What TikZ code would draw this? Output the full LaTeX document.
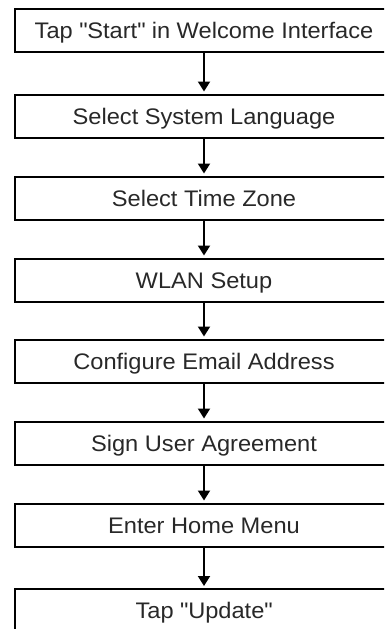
\documentclass[tikz,border=0pt]{standalone}
\usepackage{fontspec}
\setmainfont{Liberation Sans}[FakeStretch=1.05]
\usetikzlibrary{arrows.meta}
\definecolor{txt}{RGB}{40,40,40}
\tikzset{
  stepbox/.style={draw=black, line width=2pt, minimum width=378pt, minimum height=43pt,
    inner sep=0pt, text=txt, font=\fontsize{22.5pt}{26pt}\selectfont, anchor=center,
    text height=16pt, text depth=0pt},
  flow/.style={line width=2pt, -{Triangle[width=12pt,length=10pt]}, shorten >=2pt}
}
\begin{document}
\begin{tikzpicture}[x=1pt,y=-1pt]
\useasboundingbox (0,0) rectangle (384,629);
\clip (0,0) rectangle (384,629);
\node[stepbox] (b1) at (204,30.5) {Tap \textquotedbl Start\textquotedbl\ in Welcome Interface};
\node[stepbox] (b2) at (204,116) {Select System Language};
\node[stepbox] (b3) at (204,198) {Select Time Zone};
\node[stepbox] (b4) at (204,280) {WLAN Setup};
\node[stepbox] (b5) at (204,361) {Configure Email Address};
\node[stepbox] (b6) at (204,443) {Sign User Agreement};
\node[stepbox] (b7) at (204,525) {Enter Home Menu};
\node[stepbox] (b8) at (204,610.5) {Tap \textquotedbl Update\textquotedbl};
\draw[flow] (b1) -- (b2);
\draw[flow] (b2) -- (b3);
\draw[flow] (b3) -- (b4);
\draw[flow] (b4) -- (b5);
\draw[flow] (b5) -- (b6);
\draw[flow] (b6) -- (b7);
\draw[flow] (b7) -- (b8);
\end{tikzpicture}
\end{document}
